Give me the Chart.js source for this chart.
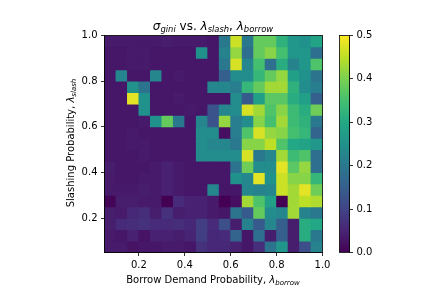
<!DOCTYPE html>
<html>
<head>
<meta charset="utf-8">
<script src="https://cdn.jsdelivr.net/npm/chart.js@4"></script>
<style>
    html, body { margin: 0; padding: 0; background: #fff; }
    canvas { position: absolute; left: 0; top: 0; }
</style>
</head>
<body>
<canvas id="heat-chart" width="432" height="288"></canvas>
<canvas id="color-bar" width="432" height="288"></canvas>
<script>
const xCenters = [0.075, 0.125, 0.175, 0.225, 0.275, 0.325, 0.375, 0.425, 0.475, 0.525, 0.575, 0.625, 0.675, 0.725, 0.775, 0.825, 0.875, 0.925, 0.975];
// top row first
const yCenters = [0.975, 0.925, 0.875, 0.825, 0.775, 0.725, 0.675, 0.625, 0.575, 0.525, 0.475, 0.425, 0.375, 0.325, 0.275, 0.225, 0.175, 0.125, 0.075];
const sigma = [
    [.035, .035, .035, .035, .035, .04, .035, .035, .035, .03, .20, .46, .20, .38, .38, .32, .26, .25, .29],
    [.03, .03, .035, .035, .03, .03, .03, .03, .25, .03, .22, .42, .18, .38, .41, .35, .26, .26, .18],
    [.03, .03, .035, .035, .03, .03, .03, .03, .03, .03, .20, .47, .23, .35, .18, .31, .22, .26, .36],
    [.03, .23, .03, .03, .23, .03, .035, .03, .03, .03, .15, .24, .24, .33, .38, .42, .28, .25, .19],
    [.03, .03, .25, .19, .03, .03, .03, .03, .03, .23, .23, .21, .33, .38, .43, .43, .32, .24, .21],
    [.03, .03, .48, .25, .03, .03, .035, .03, .03, .03, .03, .24, .14, .28, .37, .37, .31, .28, .15],
    [.03, .03, .03, .25, .03, .03, .03, .035, .03, .13, .23, .24, .47, .43, .36, .41, .34, .31, .39],
    [.03, .03, .03, .035, .25, .38, .20, .03, .23, .13, .42, .21, .24, .41, .35, .43, .34, .32, .20],
    [.03, .03, .035, .03, .03, .03, .03, .03, .24, .24, .02, .21, .36, .47, .42, .41, .35, .33, .16],
    [.03, .03, .035, .035, .03, .03, .03, .03, .24, .23, .23, .20, .41, .41, .45, .36, .30, .29, .26],
    [.03, .03, .03, .035, .03, .03, .03, .03, .24, .24, .24, .24, .47, .20, .23, .43, .34, .36, .18],
    [.04, .03, .03, .03, .035, .045, .035, .03, .03, .03, .03, .19, .39, .24, .24, .48, .37, .42, .18],
    [.035, .03, .03, .035, .035, .045, .035, .03, .03, .03, .03, .25, .23, .48, .25, .46, .41, .41, .33],
    [.035, .035, .035, .04, .035, .045, .035, .03, .03, .23, .03, .03, .23, .22, .23, .46, .43, .48, .39],
    [.005, .04, .04, .035, .035, .00, .06, .045, .045, .035, .00, .02, .43, .36, .28, .00, .43, .45, .44],
    [.04, .035, .055, .065, .04, .07, .04, .045, .045, .035, .03, .19, .14, .38, .24, .23, .43, .22, .20],
    [.04, .06, .065, .07, .06, .06, .065, .055, .09, .06, .12, .04, .22, .14, .23, .15, .04, .31, .30],
    [.035, .03, .045, .025, .045, .045, .04, .05, .09, .055, .06, .16, .03, .18, .04, .15, .04, .31, .20],
    [.035, .035, .025, .03, .03, .035, .035, .03, .07, .055, .055, .045, .03, .065, .19, .26, .04, .12, .22]
];
const xTicks = [0.2, 0.4, 0.6, 0.8, 1.0];
const yTicks = [0.2, 0.4, 0.6, 0.8, 1.0];
const barTicks = [0, 0.1, 0.2, 0.3, 0.4, 0.5];
const viridis = ['#440154', '#482475', '#414487', '#355f8d', '#2a788e', '#21918c', '#22a884', '#44bf70', '#7ad151', '#bddf26', '#fde725'];
const cellHalf = 0.025;
const sigmaMax = 0.5;

const FONT = '"DejaVu Sans"';

function hexToRgb(hex) {
    return [1, 3, 5].map(i => parseInt(hex.slice(i, i + 2), 16));
}

function sigmaColor(v) {
    const pos = Math.min(v / sigmaMax, 1) * (viridis.length - 1);
    const i = Math.min(Math.floor(pos), viridis.length - 2);
    const a = hexToRgb(viridis[i]);
    const b = hexToRgb(viridis[i + 1]);
    const c = a.map((p, k) => Math.round(p + (b[k] - p) * (pos - i)));
    return `rgb(${c[0]},${c[1]},${c[2]})`;
}

// mathtext style label: pieces of text, some of them subscript
function drawRuns(ctx, runs, x, y, size, angle) {
    ctx.save();
    ctx.translate(x, y);
    ctx.rotate(angle);
    ctx.fillStyle = '#000';
    ctx.textBaseline = 'alphabetic';
    ctx.textAlign = 'left';
    const fontOf = r => `${r.it ? 'italic ' : ''}${r.sub ? size * 0.7 : size}px ${FONT}`;
    let total = 0;
    runs.forEach(r => {
        ctx.font = fontOf(r);
        total += ctx.measureText(r.t).width;
    });
    let pos = -total / 2;
    runs.forEach(r => {
        ctx.font = fontOf(r);
        ctx.fillText(r.t, pos, r.sub ? size * 0.2 : 0);
        pos += ctx.measureText(r.t).width;
    });
    ctx.restore();
}

const frame = {
    id: 'frame',
    afterDraw(chart) {
        const { ctx, chartArea: a } = chart;
        ctx.save();
        ctx.strokeStyle = '#000';
        ctx.lineWidth = 0.8;
        ctx.strokeRect(a.left, a.top, a.right - a.left, a.bottom - a.top);
        ctx.restore();
    }
};

const labels = {
    id: 'labels',
    afterDraw(chart) {
        const ctx = chart.ctx;
        drawRuns(ctx, [
            { t: 'σ', it: true }, { t: 'gini', it: true, sub: true }, { t: ' vs. ' },
            { t: 'λ', it: true }, { t: 'slash', it: true, sub: true }, { t: ', ' },
            { t: 'λ', it: true }, { t: 'borrow', it: true, sub: true }
        ], 213, 30, 12, 0);
        drawRuns(ctx, [
            { t: 'Borrow Demand Probability, ' }, { t: 'λ', it: true }, { t: 'borrow', it: true, sub: true }
        ], 213, 283, 10, 0);
        drawRuns(ctx, [
            { t: 'Slashing Probability, ' }, { t: 'λ', it: true }, { t: 'slash', it: true, sub: true }
        ], 73.5, 143, 10, -Math.PI / 2);
    }
};

const tickStyle = { color: '#000', font: { family: FONT, size: 10 }, padding: 3.5, maxRotation: 0, autoSkip: false };
const gridStyle = { drawOnChartArea: false, offset: false, tickLength: 3.5, tickWidth: 0.8, tickColor: '#000' };

new Chart(document.getElementById('heat-chart'), {
    type: 'bar',
    data: {
        datasets: yCenters.map((y, r) => ({
            data: xCenters.map(x => ({ x: x, y: [y - cellHalf, y + cellHalf] })),
            backgroundColor: sigma[r].map(sigmaColor),
            borderWidth: 0,
            inflateAmount: 0.4,
            grouped: false,
            categoryPercentage: 1,
            barPercentage: 1
        }))
    },
    options: {
        responsive: false,
        animation: false,
        layout: { padding: { left: 4.5, top: 35.5, right: 109.5, bottom: 0 } },
        plugins: { legend: { display: false }, tooltip: { enabled: false } },
        scales: {
            x: {
                type: 'linear',
                min: 0.05,
                max: 1.0,
                offset: false,
                grid: gridStyle,
                border: { color: '#000', width: 0.8 },
                ticks: { ...tickStyle, callback: v => v.toFixed(1) },
                afterBuildTicks: s => { s.ticks = xTicks.map(v => ({ value: v })); },
                afterFit: s => { s.height = 35.5; }
            },
            y: {
                type: 'linear',
                min: 0.05,
                max: 1.0,
                grid: gridStyle,
                border: { color: '#000', width: 0.8 },
                ticks: { ...tickStyle, callback: v => v.toFixed(1) },
                afterBuildTicks: s => { s.ticks = yTicks.map(v => ({ value: v })); },
                afterFit: s => { s.width = 100; }
            }
        }
    },
    plugins: [frame, labels]
});

new Chart(document.getElementById('color-bar'), {
    type: 'bar',
    data: {
        labels: ['sigma'],
        datasets: [{
            data: [[0, sigmaMax]],
            borderWidth: 0,
            categoryPercentage: 1,
            barPercentage: 1,
            backgroundColor(c) {
                const a = c.chart.chartArea;
                if (!a) return viridis[0];
                const g = c.chart.ctx.createLinearGradient(0, a.bottom, 0, a.top);
                viridis.forEach((col, i) => g.addColorStop(i / (viridis.length - 1), col));
                return g;
            }
        }]
    },
    options: {
        responsive: false,
        animation: false,
        layout: { padding: { left: 339.5, top: 35.5, right: 0, bottom: 35.5 } },
        plugins: { legend: { display: false }, tooltip: { enabled: false } },
        scales: {
            x: { display: false },
            y: {
                position: 'right',
                min: 0,
                max: sigmaMax,
                grid: gridStyle,
                border: { color: '#000', width: 0.8 },
                ticks: { ...tickStyle, callback: v => v.toFixed(1) },
                afterBuildTicks: s => { s.ticks = barTicks.map(v => ({ value: v })); },
                afterFit: s => { s.width = 82.5; }
            }
        }
    },
    plugins: [frame]
});
</script>
</body>
</html>
